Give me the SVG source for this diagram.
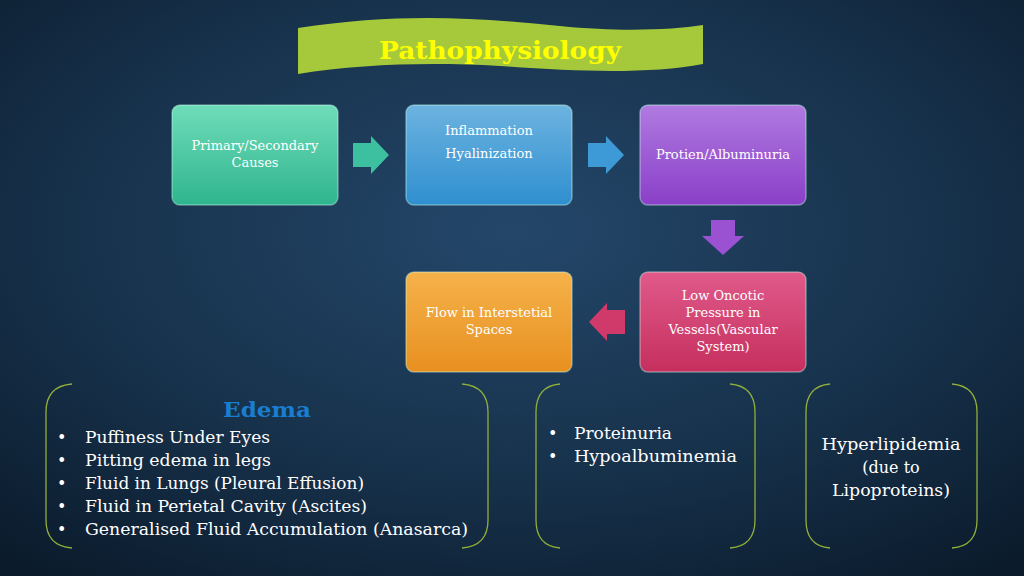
<svg xmlns="http://www.w3.org/2000/svg" width="1024" height="576" viewBox="0 0 1024 576">
<defs>
<radialGradient id="bg" cx="0.5" cy="0.4" r="0.75">
<stop offset="0" stop-color="#24476a"/><stop offset="0.6" stop-color="#163049"/><stop offset="1" stop-color="#0b1b2c"/>
</radialGradient>
<linearGradient id="g1" x1="0" y1="0" x2="0" y2="1"><stop offset="0" stop-color="#6fdcb9"/><stop offset="1" stop-color="#2fb58e"/></linearGradient>
<linearGradient id="g2" x1="0" y1="0" x2="0" y2="1"><stop offset="0" stop-color="#6cb3e0"/><stop offset="1" stop-color="#2f8fcf"/></linearGradient>
<linearGradient id="g3" x1="0" y1="0" x2="0" y2="1"><stop offset="0" stop-color="#b07ae0"/><stop offset="1" stop-color="#8a3fc8"/></linearGradient>
<linearGradient id="g4" x1="0" y1="0" x2="0" y2="1"><stop offset="0" stop-color="#e05a8a"/><stop offset="1" stop-color="#c52f5e"/></linearGradient>
<linearGradient id="g5" x1="0" y1="0" x2="0" y2="1"><stop offset="0" stop-color="#f5b24a"/><stop offset="1" stop-color="#e89020"/></linearGradient>
</defs>
<style>
.t{font-family:"DejaVu Serif","Liberation Serif",serif;fill:#fff;font-size:13px;text-anchor:middle}
.b{font-family:"DejaVu Serif","Liberation Serif",serif;fill:#fff;font-size:16px}
.br{fill:none;stroke:#8fae3a;stroke-width:1.3}
.box{stroke:#cfe;stroke-opacity:0.4;stroke-width:1.5}
</style>
<rect width="1024" height="576" fill="url(#bg)"/>
<g id="title">
<path d="M298,28 C400,12 480,18 560,26 C620,32 670,30 703,25 L703,64 C650,74 580,72 500,66 C430,62 360,64 298,74 Z" fill="#a5c93a"/>
<text x="500" y="59" text-anchor="middle" font-family="DejaVu Serif,serif" font-weight="bold" font-size="24" fill="#ffff00" textLength="242" lengthAdjust="spacingAndGlyphs">Pathophysiology</text>
</g>
<g id="n1"><rect class="box" x="172" y="105" width="166" height="100" rx="8" fill="url(#g1)"/><text class="t" x="255" y="150">Primary/Secondary</text><text class="t" x="255" y="167">Causes</text></g>
<g id="n2"><rect class="box" x="406" y="105" width="166" height="100" rx="8" fill="url(#g2)"/><text class="t" x="489" y="135">Inflammation</text><text class="t" x="489" y="158">Hyalinization</text></g>
<g id="n3"><rect class="box" x="640" y="105" width="166" height="100" rx="8" fill="url(#g3)"/><text class="t" x="723" y="159">Protien/Albuminuria</text></g>
<g id="n4"><rect class="box" x="640" y="272" width="166" height="100" rx="8" fill="url(#g4)"/><text class="t" x="723" y="300">Low Oncotic</text><text class="t" x="723" y="317">Pressure in</text><text class="t" x="723" y="334">Vessels(Vascular</text><text class="t" x="723" y="351">System)</text></g>
<g id="n5"><rect class="box" x="406" y="272" width="166" height="100" rx="8" fill="url(#g5)"/><text class="t" x="489" y="317">Flow in Interstetial</text><text class="t" x="489" y="334">Spaces</text></g>
<g id="connectors">
<path d="M353,143 H371 V136 L389,155 L371,174 V167 H353 Z" fill="#3cc0a0"/>
<path d="M588,143 H606 V136 L624,155 L606,174 V167 H588 Z" fill="#3e9ad6"/>
<path d="M711,220 H735 V236 H744 L723,255 L702,236 H711 Z" fill="#9a52d2"/>
<path d="M625,310 H607 V303 L589,322 L607,341 V334 H625 Z" fill="#d03a6a"/>
</g>
<g id="edema">
<path class="br" d="M72,384 Q46,386 46,412 V520 Q46,546 72,548"/>
<path class="br" d="M462,384 Q488,386 488,412 V520 Q488,546 462,548"/>
<text x="267" y="417" text-anchor="middle" font-family="DejaVu Serif,serif" font-weight="bold" font-size="20" fill="#1a7ed0" textLength="88" lengthAdjust="spacingAndGlyphs">Edema</text>
<g class="b">
<text x="57" y="443">•</text><text x="85" y="443" textLength="185" lengthAdjust="spacingAndGlyphs">Puffiness Under Eyes</text>
<text x="57" y="466">•</text><text x="85" y="466" textLength="186" lengthAdjust="spacingAndGlyphs">Pitting edema in legs</text>
<text x="57" y="489">•</text><text x="85" y="489" textLength="279" lengthAdjust="spacingAndGlyphs">Fluid in Lungs (Pleural Effusion)</text>
<text x="57" y="512">•</text><text x="85" y="512" textLength="282" lengthAdjust="spacingAndGlyphs">Fluid in Perietal Cavity (Ascites)</text>
<text x="57" y="535">•</text><text x="85" y="535" textLength="383" lengthAdjust="spacingAndGlyphs">Generalised Fluid Accumulation (Anasarca)</text>
</g>
</g>
<g id="protein">
<path class="br" d="M560,384 Q536,386 536,412 V520 Q536,546 560,548"/>
<path class="br" d="M730,384 Q755,386 755,412 V520 Q755,546 730,548"/>
<g class="b">
<text x="548" y="439">•</text><text x="574" y="439" textLength="98" lengthAdjust="spacingAndGlyphs">Proteinuria</text>
<text x="548" y="462">•</text><text x="574" y="462" textLength="163" lengthAdjust="spacingAndGlyphs">Hypoalbuminemia</text>
</g>
</g>
<g id="lipid">
<path class="br" d="M830,384 Q806,386 806,412 V520 Q806,546 830,548"/>
<path class="br" d="M952,384 Q977,386 977,412 V520 Q977,546 952,548"/>
<g class="b" text-anchor="middle">
<text x="891" y="450" textLength="139" lengthAdjust="spacingAndGlyphs">Hyperlipidemia</text>
<text x="891" y="473">(due to</text>
<text x="891" y="496" textLength="118" lengthAdjust="spacingAndGlyphs">Lipoproteins)</text>
</g>
</g>
</svg>
